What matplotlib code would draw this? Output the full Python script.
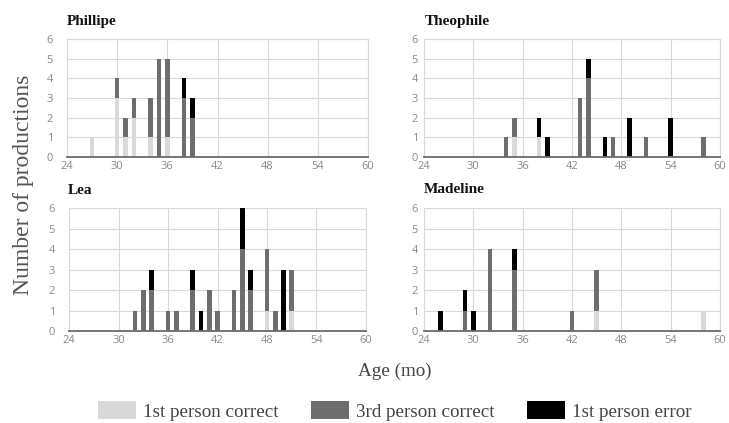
import matplotlib
matplotlib.use("Agg")
import matplotlib.pyplot as plt
from matplotlib.patches import Patch

# ---- data ----
series_names = ["1st person correct", "3rd person correct", "1st person error"]
colors = ["#d9d9d9", "#6e6e6e", "#000000"]

phillipe_ages = [27, 30, 31, 32, 34, 35, 36, 38, 39]
phillipe_first_correct = [1, 3, 1, 2, 1, 0, 1, 0, 0]
phillipe_third_correct = [0, 1, 1, 1, 2, 5, 4, 3, 2]
phillipe_first_error = [0, 0, 0, 0, 0, 0, 0, 1, 1]

theophile_ages = [34, 35, 38, 39, 43, 44, 46, 47, 49, 51, 54, 58]
theophile_first_correct = [0, 1, 1, 0, 0, 0, 0, 0, 0, 0, 0, 0]
theophile_third_correct = [1, 1, 0, 0, 3, 4, 0, 1, 0, 1, 0, 1]
theophile_first_error = [0, 0, 1, 1, 0, 1, 1, 0, 2, 0, 2, 0]

lea_ages = [32, 33, 34, 36, 37, 39, 40, 41, 42, 44, 45, 46, 48, 49, 50, 51]
lea_first_correct = [0, 0, 0, 0, 0, 0, 0, 0, 0, 0, 0, 0, 1, 0, 0, 1]
lea_third_correct = [1, 2, 2, 1, 1, 2, 0, 2, 1, 2, 4, 2, 3, 1, 0, 2]
lea_first_error = [0, 0, 1, 0, 0, 1, 1, 0, 0, 0, 2, 1, 0, 0, 3, 0]

madeline_ages = [26, 29, 30, 32, 35, 42, 45, 58]
madeline_first_correct = [0, 0, 0, 0, 0, 0, 1, 1]
madeline_third_correct = [0, 1, 0, 4, 3, 1, 2, 0]
madeline_first_error = [1, 1, 1, 0, 1, 0, 0, 0]

x_ticks = [24, 30, 36, 42, 48, 54, 60]
y_ticks = [0, 1, 2, 3, 4, 5, 6]

panels = [
    ("Phillipe", phillipe_ages, phillipe_first_correct, phillipe_third_correct, phillipe_first_error),
    ("Theophile", theophile_ages, theophile_first_correct, theophile_third_correct, theophile_first_error),
    ("Lea", lea_ages, lea_first_correct, lea_third_correct, lea_first_error),
    ("Madeline", madeline_ages, madeline_first_correct, madeline_third_correct, madeline_first_error),
]

W, H = 729, 423
fig = plt.figure(figsize=(W / 100, H / 100), dpi=100)

# axes boxes in pixels: (left, top, right, bottom)
boxes = [
    (67, 39, 368, 157),
    (424, 39, 720, 157),
    (69, 208, 366, 331),
    (424, 208, 720, 331),
]
ypads = [10, 4.3, 10, 4.3]
title_pos = [(67, 21), (425, 21), (68, 190), (424, 189)]

serif = ["Liberation Serif", "DejaVu Serif"]
tick_color = "#8a8a8a"
grid_color = "#d9d9d9"

for (name, ages, fc, tc, fe), (l, t, r, b), ypad, (tx, ty) in zip(panels, boxes, ypads, title_pos):
    ax = fig.add_axes([l / W, 1 - b / H, (r - l) / W, (b - t) / H])
    bottoms = [0] * len(ages)
    for vals, col in zip([fc, tc, fe], colors):
        ax.bar(ages, vals, width=0.55, bottom=bottoms, color=col, linewidth=0, zorder=3)
        bottoms = [bb + v for bb, v in zip(bottoms, vals)]
    ax.set_xlim(24, 60)
    ax.set_ylim(0, 6)
    ax.set_xticks(x_ticks)
    ax.set_yticks(y_ticks)
    ax.grid(True, color=grid_color, linewidth=0.8, zorder=0)
    ax.set_axisbelow(True)
    for s in ["left", "right", "top"]:
        ax.spines[s].set_color(grid_color)
        ax.spines[s].set_linewidth(0.8)
    ax.spines["bottom"].set_color("#6a6a6a")
    ax.spines["bottom"].set_linewidth(1.3)
    ax.spines["bottom"].set_zorder(4)
    ax.tick_params(axis="both", length=0, labelsize=8, labelcolor=tick_color)
    ax.tick_params(axis="x", pad=3)
    ax.tick_params(axis="y", pad=ypad)
    for lab in ax.get_xticklabels() + ax.get_yticklabels():
        lab.set_family(["Open Sans", "DejaVu Sans"])
    fig.text(tx / W, 1 - ty / H, name, family=serif, fontweight="bold",
             fontsize=11, ha="left", va="center", color="#111111")

fig.text(24 / W, 1 - 185 / H, "Number of productions", family=serif, fontsize=17,
         rotation=90, ha="center", va="center", color="#555555")
fig.text(395 / W, 1 - 371 / H, "Age (mo)", family=serif, fontsize=13.7,
         ha="center", va="center", color="#444444")

handles = [Patch(facecolor=c, edgecolor="none") for c in colors]
fig.legend(handles, series_names, loc="center", bbox_to_anchor=(395 / W, 1 - 411 / H),
           ncol=3, frameon=False, prop={"family": serif, "size": 13.7},
           handlelength=2.0, handleheight=1.0, handletextpad=0.37, columnspacing=1.7,
           labelcolor="#444444", borderpad=0, borderaxespad=0)

fig.savefig("out.png", dpi=100)
